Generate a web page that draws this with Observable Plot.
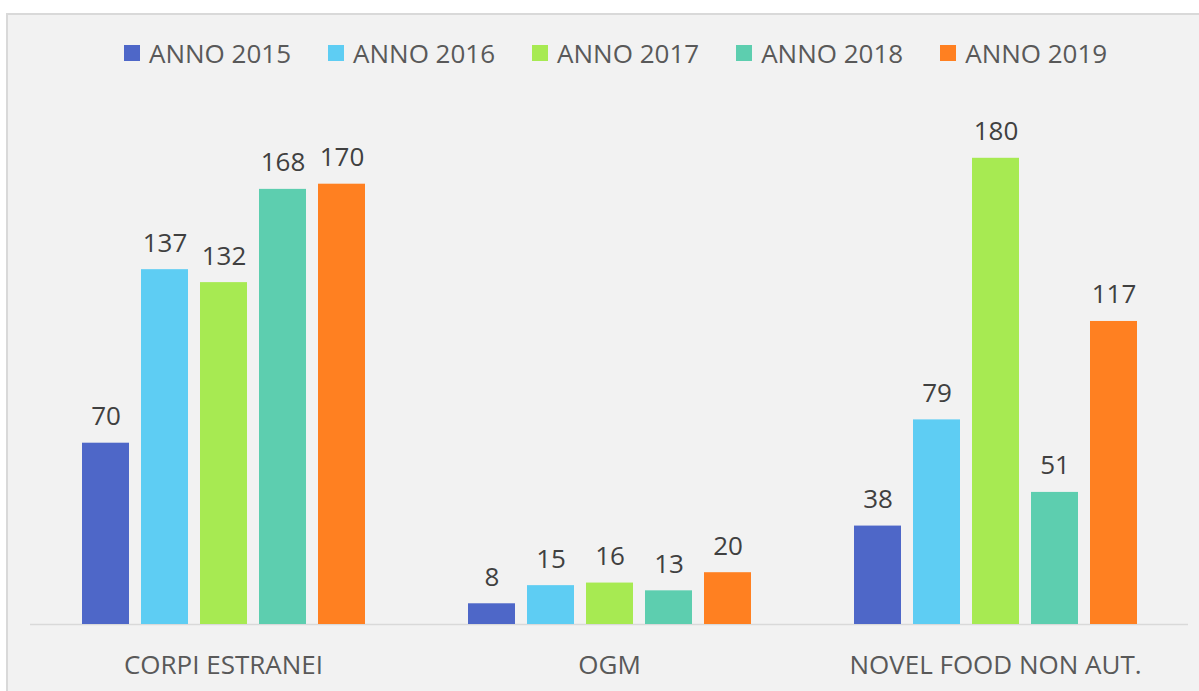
<!DOCTYPE html>
<html>
<head>
<meta charset="utf-8">
<script src="https://cdn.jsdelivr.net/npm/d3@7"></script>
<script src="https://cdn.jsdelivr.net/npm/@observablehq/plot@0.6"></script>
<style>
  html, body { margin: 0; padding: 0; background: #ffffff; width: 1199px; height: 691px; overflow: hidden; }
  #box { position: absolute; left: 6px; top: 13px; width: 1300px; height: 800px; background: #f2f2f2; border-left: 2px solid #d9d9d9; border-top: 2px solid #d9d9d9; }
  #chart { position: absolute; left: 0; top: 0; }
  #legend { position: absolute; left: 124px; top: 35px; display: flex; align-items: center; font-family: "Open Sans", sans-serif; font-size: 26px; color: #595959; }
  .item { display: flex; align-items: center; margin-right: 37px; white-space: nowrap; }
  .sw { width: 16px; height: 16px; margin-right: 9px; }
</style>
</head>
<body>
<div id="box"></div>
<div id="chart"></div>
<div id="legend"></div>
<script>
const categories = ["CORPI ESTRANEI", "OGM", "NOVEL FOOD NON AUT."];
const years = ["ANNO 2015", "ANNO 2016", "ANNO 2017", "ANNO 2018", "ANNO 2019"];
const colors = ["#4e67c8", "#5ecdf3", "#a7ea52", "#5dceaf", "#ff8021"];
const anno2015 = [70, 8, 38];
const anno2016 = [137, 15, 79];
const anno2017 = [132, 16, 180];
const anno2018 = [168, 13, 51];
const anno2019 = [170, 20, 117];

const series = [anno2015, anno2016, anno2017, anno2018, anno2019];
const data = [];
categories.forEach((cat, i) => {
  years.forEach((yr, j) => {
    data.push({cat, year: yr, value: series[j][i]});
  });
});

const legend = document.getElementById("legend");
years.forEach((yr, j) => {
  const it = document.createElement("div");
  it.className = "item";
  const sw = document.createElement("div");
  sw.className = "sw";
  sw.style.background = colors[j];
  const t = document.createElement("span");
  t.textContent = yr;
  it.appendChild(sw);
  it.appendChild(t);
  legend.appendChild(it);
});

const chart = Plot.plot({
  width: 1199,
  height: 691,
  marginLeft: 30,
  marginRight: 11,
  marginTop: 106,
  marginBottom: 67,
  facet: {marginTop: 0, marginRight: 0, marginBottom: 0, marginLeft: 0},
  fx: {domain: categories, padding: 0, label: null},
  x: {domain: years, paddingInner: 0.21, paddingOuter: 0.86, axis: null},
  y: {domain: [0, 200], axis: null},
  color: {domain: years, range: colors},
  style: {background: "transparent", fontFamily: "'Open Sans', sans-serif", color: "#595959", overflow: "visible"},
  marks: [
    Plot.ruleY([0], {stroke: "#d9d9d9", strokeWidth: 1.5}),
    Plot.barY(data, {fx: "cat", x: "year", y: "value", fill: "year"}),
    Plot.text(data, {fx: "cat", x: "year", y: "value", text: d => String(d.value), lineAnchor: "bottom", dy: -18, fontSize: 26, fill: "#404040"}),
    Plot.axisFx({anchor: "bottom", tickSize: 0, tickPadding: 31, fontSize: 26, label: null, fill: "#595959"})
  ]
});
document.getElementById("chart").appendChild(chart);
</script>
</body>
</html>
